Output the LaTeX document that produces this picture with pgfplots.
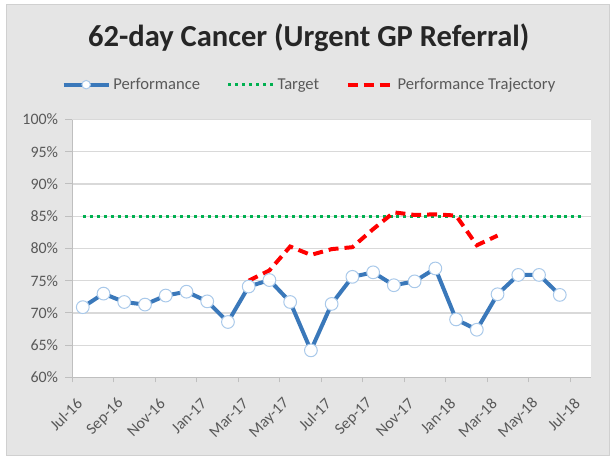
\documentclass[border=0pt]{standalone}
\usepackage{fontspec}
\setmainfont{Carlito}
\usepackage{pgfplots}
\pgfplotsset{compat=1.18}
\definecolor{bg}{HTML}{E5E5E5}
\definecolor{bordergray}{HTML}{D0D0D0}
\definecolor{gridgray}{HTML}{D9D9D9}
\definecolor{axisgray}{HTML}{BFBFBF}
\definecolor{textgray}{HTML}{595959}
\definecolor{perfblue}{HTML}{3A78BA}
\definecolor{markedge}{HTML}{A9C9EA}
\definecolor{targetgreen}{HTML}{00B050}
\definecolor{trajred}{HTML}{FF0000}
\begin{document}
\begin{tikzpicture}[x=0.75pt,y=0.75pt]
\fill[white] (0,0) rectangle (610,455);
\filldraw[fill=bg, draw=bordergray, line width=0.75pt] (7,-2) rectangle (612,450);
\begin{axis}[
  at={(54.525pt,57pt)}, anchor=south west,
  width=390.45pt, height=194.25pt, scale only axis,
  xmin=-0.5, xmax=24.5, ymin=60, ymax=100,
  axis background/.style={fill=white},
  axis x line*=bottom, axis y line*=left,
  axis line style={color=axisgray, line width=0.75pt},
  tick align=outside,
  major tick length=5.25pt, minor tick length=3.75pt,
  tick style={color=axisgray, line width=0.75pt},
  every major x tick/.append style={draw=none},
  xtick={0,2,...,24},
  xticklabels={Jul-16,Sep-16,Nov-16,Jan-17,Mar-17,May-17,Jul-17,Sep-17,Nov-17,Jan-18,Mar-18,May-18,Jul-18},
  minor xtick={-0.5,1.5,...,23.5},
  xticklabel shift=10pt,
  xticklabel style={rotate=45, anchor=east, font=\fontsize{12}{14}\selectfont, text=textgray},
  ytick={60,65,...,100},
  yticklabel={\pgfmathprintnumber{\tick}\%},
  yticklabel style={font=\fontsize{12}{14}\selectfont, text=textgray, xshift=-2pt},
  /pgf/number format/assume math mode=true,
  ymajorgrids, grid style={color=gridgray, line width=1pt},
  legend style={at={(-0.029,1.135)}, anchor=west, draw=none, fill=none,
    legend columns=-1, font=\fontsize{12.5}{14}\selectfont, text=textgray,
    /tikz/every even column/.append style={column sep=18pt}},
  legend image code/.code={\draw[mark repeat=2,mark phase=2,#1,mark size=3.2pt] plot coordinates {(0pt,0pt) (17pt,0pt) (34pt,0pt)};},
  clip=false,
]
\addplot[perfblue, line width=3pt, mark=*, mark size=4.8pt,
  mark options={fill=white, draw=markedge, line width=0.75pt, solid}]
  coordinates {
  (0,70.9) (1,73.0) (2,71.7) (3,71.3) (4,72.7) (5,73.3) (6,71.8) (7,68.6)
  (8,74.1) (9,75.1) (10,71.7) (11,64.2) (12,71.4) (13,75.6) (14,76.3) (15,74.3)
  (16,74.9) (17,76.9) (18,69.0) (19,67.4) (20,72.9) (21,75.9) (22,75.9) (23,72.8)
  };
\addlegendentry{Performance}
\addplot[targetgreen, line width=2.25pt, dash pattern=on 2.25pt off 3pt]
  coordinates {
  (0,85) (1,85) (2,85) (3,85) (4,85) (5,85) (6,85) (7,85) (8,85) (9,85) (10,85)
  (11,85) (12,85) (13,85) (14,85) (15,85) (16,85) (17,85) (18,85) (19,85) (20,85)
  (21,85) (22,85) (23,85) (24,85)
  };
\addlegendentry{Target}
\addplot[trajred, line width=3pt, dash pattern=on 7.5pt off 4.5pt]
  coordinates {
  (8,75.0) (9,76.6) (10,80.3) (11,79.0) (12,79.9) (13,80.2) (14,83.0)
  (15,85.6) (16,85.2) (17,85.3) (18,85.1) (19,80.5) (20,82.0)
  };
\addlegendentry{Performance Trajectory}
\end{axis}
\node[anchor=base, font=\fontsize{23}{27}\selectfont\bfseries, text={black!85}] at (310,408) {62-day Cancer (Urgent GP Referral)};
\end{tikzpicture}
\end{document}
